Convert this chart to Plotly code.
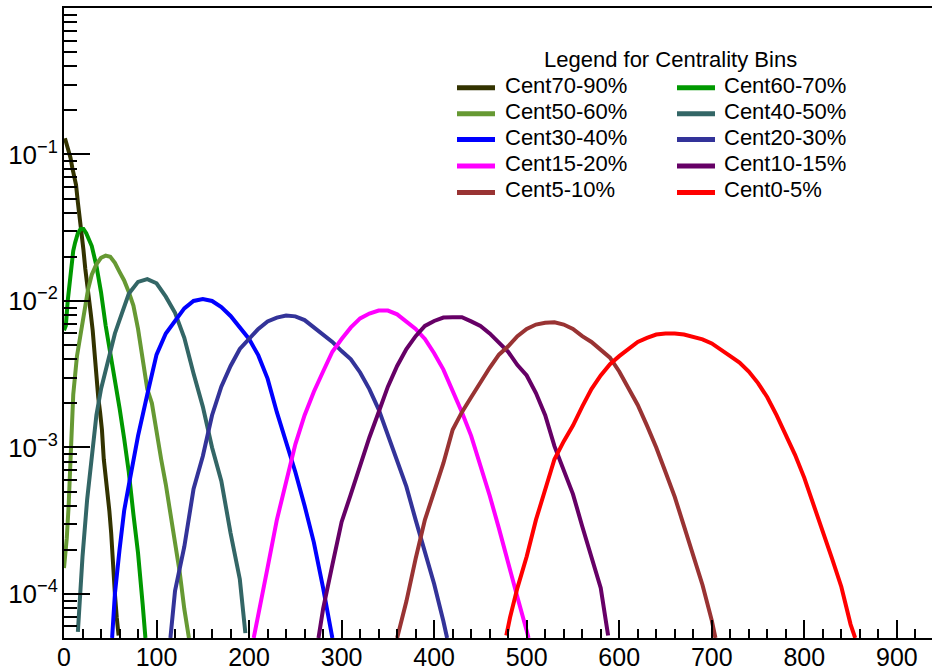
import plotly.graph_objects as go

# ---------------- data ----------------
labels = ["Cent70-90%", "Cent60-70%", "Cent50-60%", "Cent40-50%", "Cent30-40%",
          "Cent20-30%", "Cent15-20%", "Cent10-15%", "Cent5-10%", "Cent0-5%"]

x_70_90 = [1, 3, 5, 7, 9, 11, 13, 15, 17, 19, 21, 23, 25, 27, 29, 31, 33, 35, 37, 39,
           41, 43, 45, 47, 49, 51, 53, 55, 57, 59]
y_70_90 = [0.129, 0.117, 0.105, 0.095, 0.081, 0.071, 0.062, 0.047, 0.038, 0.0295,
           0.0224, 0.0166, 0.0135, 0.0102, 0.0081, 0.0063, 0.0043, 0.00275, 0.0022, 0.00174,
           0.00132, 0.00083, 0.00066, 0.00051, 0.00037, 0.00026, 0.000141, 0.0001, 0.000069, 0.000052]

x_60_70 = [0, 2, 4, 6, 8, 10, 12, 15, 18, 21, 24, 27, 30, 35, 40, 45, 50, 55, 60, 65,
           70, 75, 80, 85, 88]
y_60_70 = [0.0063, 0.0068, 0.010, 0.0132, 0.0178, 0.022, 0.025, 0.029, 0.031, 0.031,
           0.029, 0.026, 0.0237, 0.0174, 0.0115, 0.0068, 0.0044, 0.0031, 0.00186, 0.00115,
           0.00068, 0.00035, 0.00019, 0.000085, 0.00005]

x_50_60 = [0, 3, 5, 7, 10, 14, 18, 22, 26, 30, 35, 40, 45, 50, 55, 60, 65, 70, 75, 80,
           85, 90, 95, 100, 105, 110, 115, 120, 125, 130, 135]
y_50_60 = [0.00015, 0.00024, 0.0004, 0.00089, 0.0023, 0.0042, 0.0059, 0.0083, 0.012, 0.0151,
           0.0178, 0.0197, 0.0204, 0.020, 0.0182, 0.0158, 0.0138, 0.0115, 0.0093, 0.00645,
           0.0042, 0.0025, 0.0020, 0.00126, 0.00083, 0.00056, 0.00035, 0.00024, 0.000141,
           0.000079, 0.00005]

x_40_50 = [15, 20, 25, 30, 35, 40, 45, 50, 55, 60, 70, 80, 90, 100, 110, 120, 130, 140,
           150, 160, 170, 180, 190, 196]
y_40_50 = [0.000055, 0.00018, 0.00044, 0.00089, 0.00166, 0.0025, 0.0034, 0.0046, 0.006,
           0.0074, 0.0112, 0.0135, 0.0141, 0.0132, 0.0107, 0.0083, 0.0056, 0.0032, 0.0019,
           0.001, 0.00059, 0.00026, 0.000126, 0.000054]

x_30_40 = [52, 55, 60, 65, 70, 75, 80, 90, 100, 110, 120, 130, 140, 150, 160, 170, 180,
           190, 200, 210, 220, 230, 240, 250, 260, 270, 280, 287, 290]
y_30_40 = [0.00005, 0.0001, 0.0002, 0.00037, 0.00055, 0.00084, 0.0012, 0.0023, 0.0043,
           0.006, 0.0074, 0.0089, 0.010, 0.0103, 0.010, 0.0091, 0.0079, 0.0066, 0.0055,
           0.00425, 0.00295, 0.00174, 0.0011, 0.00068, 0.0004, 0.000225, 0.00011, 0.000065,
           0.00005]

x_20_30 = [115, 120, 130, 140, 150, 160, 170, 180, 190, 200, 210, 220, 230, 240, 250, 260,
           270, 280, 290, 300, 310, 320, 330, 340, 350, 360, 370, 380, 390, 400, 410, 414]
y_20_30 = [0.00005, 0.000105, 0.00021, 0.00052, 0.00087, 0.00166, 0.0026, 0.0036, 0.0047,
           0.0055, 0.00645, 0.00725, 0.0077, 0.00795, 0.00785, 0.0074, 0.0066, 0.0059,
           0.00525, 0.00455, 0.004, 0.00325, 0.0025, 0.00182, 0.00123, 0.00083, 0.00054,
           0.00032, 0.000195, 0.000117, 0.000065, 0.00005]

x_15_20 = [205, 210, 220, 230, 240, 250, 260, 270, 280, 290, 300, 310, 320, 330, 340, 350,
           360, 370, 380, 390, 400, 410, 420, 430, 440, 450, 460, 470, 480, 490, 500, 502]
y_15_20 = [5e-5, 7.1e-5, 1.51e-4, 3.2e-4, 5.8e-4, 1.05e-3, 1.66e-3, 2.4e-3, 3.3e-3, 4.5e-3,
           5.5e-3, 6.6e-3, 7.6e-3, 8.2e-3, 8.6e-3, 8.6e-3, 8.1e-3, 7.25e-3, 6.45e-3, 5.5e-3,
           4.4e-3, 3.4e-3, 2.45e-3, 1.74e-3, 1.2e-3, 7.6e-4, 4.7e-4, 2.8e-4, 1.58e-4, 9.5e-5,
           5.6e-5, 5e-5]

x_10_15 = [275, 280, 290, 300, 310, 320, 330, 340, 350, 360, 370, 380, 390, 400, 410, 420,
           430, 440, 450, 460, 470, 480, 490, 500, 510, 520, 530, 540, 550, 560, 570, 580, 588]
y_10_15 = [5e-5, 7.9e-5, 1.58e-4, 3.1e-4, 4.8e-4, 7.6e-4, 1.17e-3, 1.74e-3, 2.6e-3, 3.6e-3,
           4.7e-3, 5.75e-3, 6.75e-3, 7.3e-3, 7.7e-3, 7.75e-3, 7.75e-3, 7.25e-3, 6.75e-3, 6.0e-3,
           5.25e-3, 4.5e-3, 3.65e-3, 3.1e-3, 2.35e-3, 1.66e-3, 1.02e-3, 6.9e-4, 4.8e-4, 2.9e-4,
           1.78e-4, 1.1e-4, 5.2e-5]

x_5_10 = [360, 370, 380, 390, 400, 410, 420, 430, 440, 450, 460, 470, 480, 490, 500, 510,
          520, 530, 540, 550, 560, 570, 580, 590, 600, 610, 620, 630, 640, 650, 660, 670,
          680, 690, 700, 704]
y_5_10 = [5e-5, 8.9e-5, 1.74e-4, 3.2e-4, 5e-4, 7.8e-4, 1.32e-3, 1.74e-3, 2.2e-3, 2.8e-3,
          3.5e-3, 4.3e-3, 4.9e-3, 5.75e-3, 6.45e-3, 6.9e-3, 7.1e-3, 7.15e-3, 6.9e-3, 6.45e-3,
          5.75e-3, 5.25e-3, 4.6e-3, 4.1e-3, 3.3e-3, 2.55e-3, 1.95e-3, 1.41e-3, 1.0e-3, 6.8e-4,
          4.6e-4, 2.9e-4, 1.86e-4, 1.15e-4, 6.6e-5, 5e-5]

x_0_5 = [478, 482, 490, 500, 510, 520, 530, 540, 550, 560, 570, 580, 590, 600, 610, 620,
         630, 640, 650, 660, 670, 680, 690, 700, 710, 720, 730, 740, 750, 760, 770, 780,
         790, 800, 810, 820, 830, 840, 850, 855]
y_0_5 = [5.2e-5, 6.9e-5, 1.1e-4, 1.8e-4, 3.2e-4, 5.2e-4, 8.3e-4, 1.1e-3, 1.41e-3, 1.9e-3,
         2.5e-3, 3.1e-3, 3.7e-3, 4.2e-3, 4.7e-3, 5.25e-3, 5.6e-3, 5.9e-3, 6.0e-3, 6.0e-3,
         5.9e-3, 5.7e-3, 5.47e-3, 5.13e-3, 4.68e-3, 4.2e-3, 3.8e-3, 3.3e-3, 2.75e-3, 2.2e-3,
         1.66e-3, 1.23e-3, 8.9e-4, 6.2e-4, 4.1e-4, 2.75e-4, 1.74e-4, 1.12e-4, 6.2e-5, 5e-5]

xs = [x_70_90, x_60_70, x_50_60, x_40_50, x_30_40, x_20_30, x_15_20, x_10_15, x_5_10, x_0_5]
ys = [y_70_90, y_60_70, y_50_60, y_40_50, y_30_40, y_20_30, y_15_20, y_10_15, y_5_10, y_0_5]

colors = ["#333300", "#009900", "#669933", "#336666", "#0000ff",
          "#333399", "#ff00ff", "#660066", "#993333", "#ff0000"]

x_tickvals = [0, 100, 200, 300, 400, 500, 600, 700, 800, 900]
y_tickvals = [1e-4, 1e-3, 1e-2, 1e-1]
y_ticktext = ["10<sup>\u22124</sup>", "10<sup>\u22123</sup>", "10<sup>\u22122</sup>", "10<sup>\u22121</sup>"]
legend_title = "Legend for Centrality Bins"

# ---------------- layout geometry (pixels) ----------------
W, H = 932, 671
ML, MR, MT, MB = 64, 0, 8, 31
PW, PH = W - ML - MR, H - MT - MB


def px_x(p):
    return (p - ML) / PW


def px_y(p):
    return (H - MB - p) / PH


FONT = "Liberation Sans, Arial, sans-serif"
fig = go.Figure()
for lab, x, y, c in zip(labels, xs, ys, colors):
    fig.add_trace(go.Scatter(
        x=x, y=y, mode="lines", name=lab, showlegend=False,
        line=dict(color=c, width=4),
    ))

# manual two-column legend
shapes = []
annotations = [dict(text=legend_title, x=px_x(670.5), y=px_y(60),
                    xref="paper", yref="paper", xanchor="center", yanchor="middle",
                    showarrow=False, font=dict(size=22, family=FONT, color="black"))]
col_line_x = [(457, 495), (677, 715)]
col_text_x = [503, 722]
row_y = [88, 114, 140, 166.5, 193]
for i, (lab, c) in enumerate(zip(labels, colors)):
    col, row = i % 2, i // 2
    x0, x1 = col_line_x[col]
    yl = row_y[row]
    shapes.append(dict(type="line", xref="paper", yref="paper",
                       x0=px_x(x0), x1=px_x(x1), y0=px_y(yl), y1=px_y(yl),
                       line=dict(color=c, width=5)))
    annotations.append(dict(text=lab, x=px_x(col_text_x[col]), y=px_y(yl - 2.5),
                            xref="paper", yref="paper", xanchor="left", yanchor="middle",
                            showarrow=False, font=dict(size=22, family=FONT, color="black")))

minor_y = [k * 10.0 ** e for e in range(-5, 0) for k in range(2, 10)]
minor_y = [v for v in minor_y if 5e-5 <= v <= 1.0]

fig.update_layout(
    width=W, height=H,
    margin=dict(l=ML, r=MR, t=MT, b=MB),
    paper_bgcolor="white", plot_bgcolor="white",
    font=dict(family=FONT, color="black", size=22),
    showlegend=False,
    shapes=shapes,
    annotations=annotations,
    xaxis=dict(
        range=[0, 938], showgrid=False, zeroline=False,
        showline=True, linecolor="black", linewidth=2, mirror=True,
        ticks="inside", ticklen=18, tickwidth=1.5, tickcolor="black",
        tickvals=x_tickvals, tickfont=dict(size=25, family=FONT),
        ticklabelstandoff=-4,
        minor=dict(ticks="inside", ticklen=9, tickwidth=1.5, tickcolor="black", dtick=20, showgrid=False),
    ),
    yaxis=dict(
        type="log", range=[-4.30103, 0], showgrid=False, zeroline=False,
        showline=True, linecolor="black", linewidth=2, mirror=False,
        ticks="inside", ticklen=26, tickwidth=1.5, tickcolor="black",
        tickvals=y_tickvals, ticktext=y_ticktext, tickfont=dict(size=26, family=FONT),
        ticklabelstandoff=-1,
        minor=dict(ticks="inside", ticklen=13, tickwidth=1.5, tickcolor="black",
                   tickvals=minor_y, showgrid=False),
    ),
)

fig.write_html("out.html")
